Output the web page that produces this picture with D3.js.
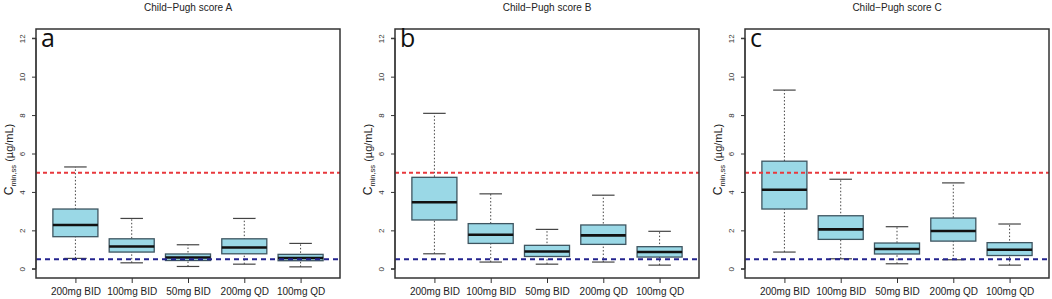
<!DOCTYPE html>
<html>
<head>
<meta charset="utf-8">
<script src="https://cdn.jsdelivr.net/npm/d3@7"></script>
<style>
  body { margin: 0; background: white; }
  svg { display: block; font-family: "Liberation Sans", Arial, sans-serif; }
</style>
</head>
<body>
<div id="chart"></div>
<script>
// dose groups on the x axis
const doses = ['200mg BID', '100mg BID', '50mg BID', '200mg QD', '100mg QD'];
const panelTitles = ['Child\u2212Pugh score A', 'Child\u2212Pugh score B', 'Child\u2212Pugh score C'];
const panelLetters = ['a', 'b', 'c'];
const yTicks = [0, 2, 4, 6, 8, 10, 12];

// [lower whisker, Q1, median, Q3, upper whisker] per dose group
const statsA = [
  [0.54, 1.67, 2.28, 3.11, 5.30],
  [0.31, 0.87, 1.16, 1.56, 2.62],
  [0.12, 0.43, 0.59, 0.77, 1.25],
  [0.24, 0.78, 1.11, 1.56, 2.62],
  [0.10, 0.42, 0.56, 0.75, 1.32]
];
const statsB = [
  [0.78, 2.54, 3.46, 4.76, 8.09],
  [0.35, 1.32, 1.77, 2.35, 3.90],
  [0.24, 0.64, 0.90, 1.22, 2.05],
  [0.35, 1.27, 1.74, 2.28, 3.83],
  [0.19, 0.61, 0.87, 1.15, 1.95]
];
const statsC = [
  [0.87, 3.11, 4.11, 5.60, 9.30],
  [0.52, 1.53, 2.05, 2.76, 4.66],
  [0.26, 0.77, 1.03, 1.34, 2.19],
  [0.47, 1.44, 1.97, 2.64, 4.47],
  [0.19, 0.69, 0.99, 1.36, 2.33]
];
// reference lines (µg/mL)
const upperLimit = 5;
const lowerLimit = 0.5;

const width = 1052, height = 299;
const panelLeft = [36, 395, 745];
const plotW = 304;
const plotTop = 29, plotBottom = 278;

const svg = d3.select('#chart').append('svg')
  .attr('width', width)
  .attr('height', height);

const yScale = d3.scaleLinear()
  .domain([-0.48, 12.48])
  .range([plotBottom, plotTop]);

[statsA, statsB, statsC].forEach(function(stats, p) {
  const x0 = panelLeft[p];
  const xScale = d3.scaleLinear()
    .domain([0.3, 5.7])
    .range([x0, x0 + plotW]);
  const unit = xScale(1) - xScale(0);
  const boxW = 0.8 * unit;
  const g = svg.append('g');

  // title
  g.append('text')
    .attr('x', x0 + plotW / 2)
    .attr('y', 11)
    .attr('text-anchor', 'middle')
    .style('font-size', '10px')
    .style('fill', '#222')
    .text(panelTitles[p]);

  // y axis
  const yAxis = d3.axisLeft(yScale)
    .tickValues(yTicks)
    .tickSize(4)
    .tickPadding(4);
  const ya = g.append('g')
    .attr('transform', `translate(${x0},0)`)
    .call(yAxis);
  ya.select('.domain').attr('d', `M-4,${yScale(0)}H0V${yScale(12)}H-4`).attr('stroke', '#333');
  ya.selectAll('.tick line').attr('stroke', '#333');
  ya.selectAll('.tick text')
    .attr('transform', 'rotate(-90)')
    .attr('x', 0)
    .attr('y', -11)
    .attr('dy', 0)
    .attr('text-anchor', 'middle')
    .style('font-size', '8px')
    .style('fill', '#333');

  // y label
  const yl = g.append('text')
    .attr('transform', `translate(${x0 - 23},${(plotTop + plotBottom) / 2 + 6})rotate(-90)`)
    .attr('text-anchor', 'middle')
    .style('font-size', '11px')
    .style('fill', '#222');
  yl.append('tspan').style('font-size', '12px').text('C');
  yl.append('tspan').attr('dy', 3).style('font-size', '7.5px').text('min,ss');
  yl.append('tspan').attr('dy', -3).text(' (\u00b5g/mL)');

  // x axis
  const xAxis = d3.axisBottom(xScale)
    .tickValues([1, 2, 3, 4, 5])
    .tickFormat(d => doses[d - 1])
    .tickSize(5)
    .tickPadding(5);
  const xa = g.append('g')
    .attr('transform', `translate(0,${plotBottom})`)
    .call(xAxis);
  xa.select('.domain').remove();
  xa.selectAll('.tick line').attr('stroke', '#333');
  xa.selectAll('.tick text')
    .style('font-size', '10px')
    .style('fill', '#222');

  // whiskers (dotted)
  const boxes = g.append('g').selectAll('g')
    .data(stats)
    .enter()
    .append('g');

  boxes.append('line')
    .attr('x1', (d, i) => xScale(i + 1))
    .attr('x2', (d, i) => xScale(i + 1))
    .attr('y1', d => yScale(d[0]))
    .attr('y2', d => yScale(d[4]))
    .attr('stroke', '#444')
    .attr('stroke-width', 1)
    .attr('stroke-dasharray', '1.5,2');

  // staples
  [0, 4].forEach(function(k) {
    boxes.append('line')
      .attr('x1', (d, i) => xScale(i + 1) - boxW / 4)
      .attr('x2', (d, i) => xScale(i + 1) + boxW / 4)
      .attr('y1', d => yScale(d[k]))
      .attr('y2', d => yScale(d[k]))
      .attr('stroke', '#444')
      .attr('stroke-width', 1.2);
  });

  // boxes
  boxes.append('rect')
    .attr('x', (d, i) => xScale(i + 1) - boxW / 2)
    .attr('y', d => yScale(d[3]))
    .attr('width', boxW)
    .attr('height', d => yScale(d[1]) - yScale(d[3]))
    .attr('fill', '#9ad8e6')
    .attr('stroke', '#3e5560')
    .attr('stroke-width', 1.3);

  // medians
  boxes.append('line')
    .attr('x1', (d, i) => xScale(i + 1) - boxW / 2)
    .attr('x2', (d, i) => xScale(i + 1) + boxW / 2)
    .attr('y1', d => yScale(d[2]))
    .attr('y2', d => yScale(d[2]))
    .attr('stroke', '#111')
    .attr('stroke-width', 2.6);

  // reference lines
  g.append('line')
    .attr('x1', x0).attr('x2', x0 + plotW)
    .attr('y1', yScale(upperLimit)).attr('y2', yScale(upperLimit))
    .attr('stroke', '#e8383d')
    .attr('stroke-width', 2)
    .attr('stroke-dasharray', '4,3');
  g.append('line')
    .attr('x1', x0).attr('x2', x0 + plotW)
    .attr('y1', yScale(lowerLimit)).attr('y2', yScale(lowerLimit))
    .attr('stroke', '#23238e')
    .attr('stroke-width', 2)
    .attr('stroke-dasharray', '5,4');

  // frame
  g.append('rect')
    .attr('x', x0)
    .attr('y', plotTop)
    .attr('width', plotW)
    .attr('height', plotBottom - plotTop)
    .attr('fill', 'none')
    .attr('stroke', '#333')
    .attr('stroke-width', 1.5);

  // panel letter
  g.append('text')
    .attr('x', x0 + 5)
    .attr('y', 47)
    .style('font-family', '"Open Sans", "DejaVu Sans", sans-serif')
    .style('font-size', '25px')
    .style('fill', '#111')
    .text(panelLetters[p]);
});
</script>
</body>
</html>
